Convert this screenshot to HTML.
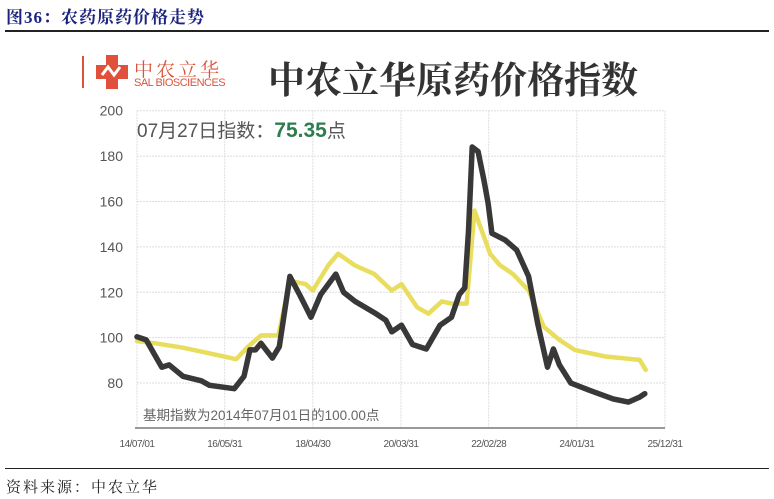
<!DOCTYPE html>
<html><head><meta charset="utf-8"><style>
body{margin:0;width:774px;height:499px;background:#fff;overflow:hidden;position:relative;font-family:"Liberation Sans","Noto Sans CJK SC",sans-serif}
.abs{position:absolute}
</style></head><body>
<div class="abs" style="left:6px;top:3px;font-family:'Liberation Serif','Noto Serif CJK SC',serif;font-weight:bold;font-size:17px;color:#1a237e;letter-spacing:1px">图36：农药原药价格走势</div>
<div class="abs" style="left:5px;top:30px;width:764px;height:2px;background:#222"></div>
<div class="abs" style="left:82px;top:56px;width:2px;height:32px;background:#d9543a"></div>
<svg class="abs" style="left:96px;top:55px" width="32" height="34"><path d="M10 0h12v10h10v14h-10v10h-12v-10h-10v-14h10z" fill="#e0503a"/><path d="M6 20l6-8 6 8 6-8" stroke="#fff" stroke-width="3" fill="none"/></svg>
<div class="abs" style="left:134px;top:55px;color:#d9543a;font-size:19px;font-family:'Noto Serif CJK SC',serif;letter-spacing:3px">中农立华</div>
<div class="abs" style="left:134px;top:77px;color:#d9543a;font-size:11px;letter-spacing:-0.5px">SAL BIOSCIENCES</div>
<div class="abs" style="left:268px;top:50px;color:#333;font-size:37px;font-weight:bold;font-family:'Noto Serif CJK SC',serif">中农立华原药价格指数</div>
<svg class="abs" id="chart" style="left:0;top:0" width="774" height="499"></svg>
<div class="abs" style="left:137px;top:116px;font-size:19px;color:#555">07月27日指数：<b style="color:#2e7d4f;font-size:21px">75.35</b>点</div>
<div class="abs" style="left:143px;top:404px;font-size:13.5px;color:#666">基期指数为2014年07月01日的100.00点</div>
<div class="abs" style="left:5px;top:468px;width:764px;height:1px;background:#222"></div>
<div class="abs" style="left:6px;top:476px;font-size:15px;color:#222;font-family:'Noto Serif CJK SC',serif;letter-spacing:2px">资料来源：中农立华</div>
<script>
const yTicks=[80,100,120,140,160,180,200];
const xTickYears=[2014.5,2016.41,2018.33,2020.25,2022.16,2024.08,2026.0];
const xTickLabels=["14/07/01","16/05/31","18/04/30","20/03/31","22/02/28","24/01/31","25/12/31"];
const blackT=[2014.5,2014.7,2014.87,2015.04,2015.2,2015.5,2015.9,2016.08,2016.62,2016.83,2016.96,2017.08,2017.2,2017.45,2017.6,2017.83,2018.04,2018.29,2018.5,2018.83,2019.0,2019.25,2019.67,2019.92,2020.05,2020.26,2020.5,2020.8,2021.1,2021.35,2021.52,2021.64,2021.72,2021.8,2021.93,2022.06,2022.15,2022.23,2022.52,2022.77,2023.03,2023.23,2023.44,2023.57,2023.7,2023.95,2024.37,2024.87,2025.2,2025.45,2025.56];
const blackV=[100.4,99,93,87,88,83,81,79,77.5,83,94.6,94.6,97.5,91,96,127,119,109,119,128,120,116,111,107.7,102.6,105.5,97,95,105.5,109,119,122,147,184,182,169,159,146,143,138.6,127,106,87,95,88,80,76.7,73,71.6,73.8,75.3];
const yellowT=[2014.5,2014.9,2015.5,2016.0,2016.66,2016.92,2017.2,2017.58,2017.83,2018.17,2018.33,2018.67,2018.88,2019.25,2019.67,2020.05,2020.26,2020.6,2020.85,2021.14,2021.35,2021.68,2021.85,2022.19,2022.4,2022.69,2023.03,2023.36,2023.7,2024.03,2024.7,2025.45,2025.58];
const yellowV=[98.5,97.5,95.6,93.4,90.5,96,101,101,125,123.6,120.8,132,137,131.8,128,120.8,123.6,113.4,110.6,116,115,115,156,137,132,128,120.8,104.8,99,94.6,91.7,90.2,85.8];
const svg=document.getElementById('chart');const NS='http://www.w3.org/2000/svg';
const X0=137,X1=665,Y0=428,Y1=110.7;
const x=t=>X0+(t-2014.5)/(2026-2014.5)*(X1-X0);
const y=v=>Y0-(v-60.2)/(200-60.2)*(Y0-Y1);
function mk(tag,a){const e=document.createElementNS(NS,tag);for(const k in a)e.setAttribute(k,a[k]);svg.appendChild(e);return e;}
yTicks.forEach(v=>{
const g=mk('line',{x1:X0,x2:X1,y1:y(v),y2:y(v),stroke:'#ddd','stroke-dasharray':'2,1'});


const t=mk('text',{x:123,y:y(v)+5,'text-anchor':'end','font-size':'14','fill':'#555','font-family':'Liberation Sans'});
t.textContent=v;


});
xTickYears.forEach((yr,i)=>{
const g=mk('line',{x1:x(yr),x2:x(yr),y1:Y1,y2:Y0,stroke:'#ddd','stroke-dasharray':'2,1'});


const t=mk('text',{x:x(yr),y:447,'text-anchor':'middle','font-size':'10','fill':'#555','font-family':'Liberation Sans','letter-spacing':'-0.5'});
t.textContent=xTickLabels[i];


});
const ax=mk('line',{x1:X0-2,x2:X1,y1:Y0,y2:Y0,stroke:'#999','stroke-width':2});


function line(T,V,col,w,name){
const p=mk('path',{d:T.map((t,i)=>(i?'L':'M')+x(t).toFixed(1)+','+y(V[i]).toFixed(1)).join(''),fill:'none',stroke:col,'stroke-width':w,'stroke-linejoin':'round','stroke-linecap':'round'});


}
line(yellowT,yellowV,'#e9dd5e',4.5,'yellow-series-line');
line(blackT,blackV,'#383838',5.5,'black-series-line');
</script>
</body></html>
